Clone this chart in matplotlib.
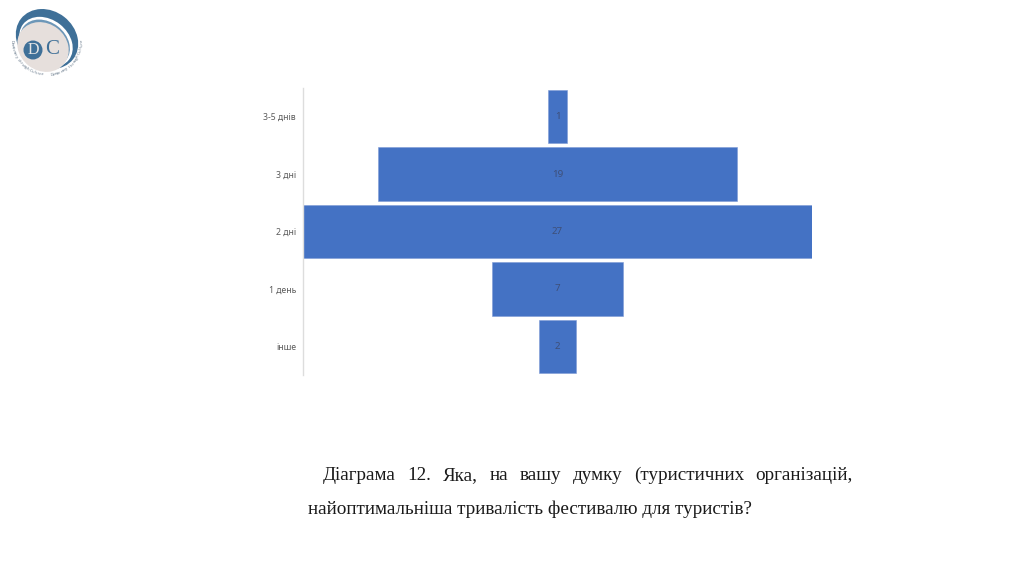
import math
import matplotlib
matplotlib.use("Agg")
import matplotlib.pyplot as plt
from matplotlib.patches import Ellipse, Circle

categories = ["інше", "1 день", "2 дні", "3 дні", "3-5 днів"]
values = [2, 7, 27, 19, 1]
caption_line1 = "Діаграма 12. Яка, на вашу думку (туристичних організацій,"
caption_line2 = "найоптимальніша тривалість фестивалю для туристів?"
logo_motto = "Democracy through Culture"

W, H = 1024, 576
fig = plt.figure(figsize=(W / 100, H / 100), dpi=100, facecolor="white")

# funnel chart
L, R, T, B = 303, 812, 88, 375
ax = fig.add_axes([L / W, 1 - B / H, (R - L) / W, (B - T) / H])
m = max(values) / 2
ax.barh(categories, values, left=[-v / 2 for v in values], height=0.93,
        color="#4472C4", edgecolor="#7E9BD6", linewidth=0.4)
ax.set_xlim(-m, m)
ax.set_ylim(-0.5, len(values) - 0.5)
for s in ("top", "right", "bottom"):
    ax.spines[s].set_visible(False)
ax.spines["left"].set_color("#DDDDDD")
ax.spines["left"].set_linewidth(1)
ax.set_xticks([])
ax.tick_params(axis="y", length=0, pad=5, labelsize=6.2, labelcolor="#595959")
for lab in ax.get_yticklabels():
    lab.set_family("Noto Sans")
for i, v in enumerate(values):
    ax.text(0, i, str(v), ha="center", va="center", fontsize=7,
            color="#3E4F78", family="Noto Sans")

# overlay in pixel coordinates
ov = fig.add_axes([0, 0, 1, 1], facecolor="none")
ov.set_xlim(0, W)
ov.set_ylim(H, 0)
ov.axis("off")

# logo
blue = "#3F7098"
ov.add_patch(Ellipse((47, 39), 66, 56, angle=38, color=blue, lw=0))
ov.add_patch(Ellipse((46, 42), 58, 45, angle=38, color="#FFFFFF", lw=0))
ov.add_patch(Ellipse((45, 43), 54, 42, angle=38, color="#6D97B8", lw=0))
ov.add_patch(Ellipse((43, 47), 54, 47, angle=38, color="#E6DFDC", lw=0))
ov.add_patch(Circle((33, 50), 9.5, color=blue, lw=0))
ov.text(33, 50, "D", ha="center", va="center", fontsize=11.5,
        family="Liberation Serif", color="#E6E6E6")
ov.text(52, 50, "C", ha="center", va="center", fontsize=15,
        family="Liberation Serif", color=blue)


def arc_text(s, t0, t1, cx=47, cy=40, r=35):
    for i, ch in enumerate(s):
        t = t0 + (t1 - t0) * i / (len(s) - 1)
        a = math.radians(t)
        ov.text(cx + r * math.cos(a), cy + r * math.sin(a), ch, ha="center", va="center",
                fontsize=3, rotation=90 - t, rotation_mode="anchor",
                color="#66788A", family="Noto Sans")


arc_text(logo_motto, 178, 98)
arc_text(logo_motto, 82, 2)

# caption
cap = dict(family="Liberation Serif", fontsize=13.75, color="#1A1A1A", va="baseline")
ov.text(307.5, 514, caption_line2, ha="left", **cap)

# first line justified between its two edges
x0, x1, base = 323, 853, 480
fig.canvas.draw()
rend = fig.canvas.get_renderer()
words = caption_line1.split(" ")
arts = [ov.text(0, base, w, ha="left", **cap) for w in words]
widths = [a.get_window_extent(rend).width for a in arts]
gap = (x1 - x0 - sum(widths)) / (len(words) - 1)
x = x0
for a, wd in zip(arts, widths):
    a.set_x(x)
    x += wd + gap

fig.savefig("out.png", dpi=100)
